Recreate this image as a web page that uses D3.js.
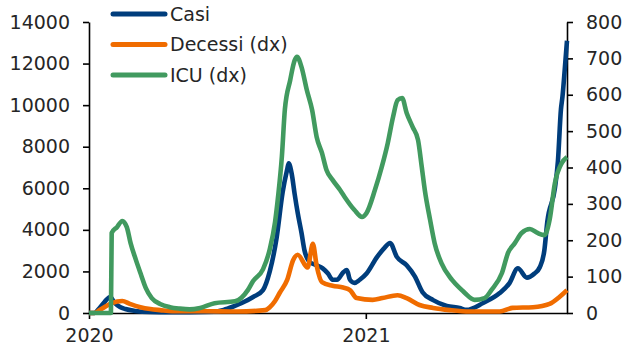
<!DOCTYPE html>
<html>
<head>
<meta charset="utf-8">
<script src="https://cdn.jsdelivr.net/npm/d3@7/dist/d3.min.js"></script>
<style>
  html, body { margin: 0; padding: 0; background: #fff; }
  svg { display: block; }
  text { font-family: "DejaVu Sans", sans-serif; fill: #262626; }
</style>
</head>
<body>
<svg id="chart" width="625" height="347"></svg>
<script>
// Daily new cases (left axis)
const casi = [
  ["2020-01-01", 0], ["2020-01-08", 0], ["2020-01-15", 240], ["2020-01-22", 550],
  ["2020-01-29", 770], ["2020-02-04", 480], ["2020-02-11", 290], ["2020-02-18", 190],
  ["2020-03-02", 100], ["2020-03-22", 50], ["2020-04-17", 40], ["2020-05-13", 40],
  ["2020-06-15", 60], ["2020-06-27", 150], ["2020-07-09", 300], ["2020-07-21", 480],
  ["2020-08-05", 770], ["2020-08-18", 1100], ["2020-08-27", 2000], ["2020-09-05", 3600],
  ["2020-09-13", 5800], ["2020-09-19", 6900], ["2020-09-21", 7200], ["2020-09-25", 6700],
  ["2020-09-29", 5700], ["2020-10-03", 4800], ["2020-10-08", 3850], ["2020-10-12", 3000],
  ["2020-10-19", 2450], ["2020-10-28", 2300], ["2020-11-05", 2150], ["2020-11-12", 1900],
  ["2020-11-18", 1600], ["2020-11-24", 1600], ["2020-12-02", 1950], ["2020-12-07", 2070],
  ["2020-12-11", 1600], ["2020-12-17", 1450], ["2020-12-24", 1600], ["2021-01-02", 1900],
  ["2021-01-16", 2700], ["2021-01-26", 3150], ["2021-02-02", 3370], ["2021-02-11", 2700],
  ["2021-02-24", 2300], ["2021-03-07", 1750], ["2021-03-17", 1000], ["2021-03-31", 620],
  ["2021-04-18", 340], ["2021-05-05", 240], ["2021-05-14", 150], ["2021-06-05", 480],
  ["2021-06-27", 960], ["2021-07-10", 1440], ["2021-07-21", 2150], ["2021-08-02", 1700],
  ["2021-08-12", 1900], ["2021-08-19", 2200], ["2021-08-25", 3000], ["2021-08-29", 4400],
  ["2021-09-08", 6000], ["2021-09-12", 7300], ["2021-09-16", 9800], ["2021-09-18", 10400],
  ["2021-09-21", 11700], ["2021-09-24", 13100]
];

// Daily deaths (right axis)
const decessi = [
  ["2020-01-01", 0], ["2020-01-08", 0], ["2020-01-15", 8], ["2020-01-31", 27],
  ["2020-02-14", 33], ["2020-02-24", 25], ["2020-03-09", 16], ["2020-03-22", 11],
  ["2020-04-04", 8], ["2020-04-20", 5], ["2020-06-01", 5], ["2020-07-15", 4],
  ["2020-08-21", 8], ["2020-08-27", 16], ["2020-09-03", 33], ["2020-09-09", 55],
  ["2020-09-19", 91], ["2020-09-27", 146], ["2020-10-03", 160], ["2020-10-16", 125],
  ["2020-10-23", 190], ["2020-10-28", 130], ["2020-11-04", 85], ["2020-11-18", 75],
  ["2020-12-02", 70], ["2020-12-11", 63], ["2020-12-20", 41], ["2021-01-10", 36],
  ["2021-01-23", 41], ["2021-02-12", 49], ["2021-02-24", 41], ["2021-03-13", 22],
  ["2021-03-31", 14], ["2021-04-22", 8], ["2021-05-18", 4], ["2021-06-27", 4],
  ["2021-07-14", 14], ["2021-08-10", 16], ["2021-09-01", 25], ["2021-09-14", 44],
  ["2021-09-24", 63]
];

// Intensive care occupancy (right axis)
const icu = [
  ["2020-01-01", 0], ["2020-01-30", 0], ["2020-01-31", 220], ["2020-02-07", 236],
  ["2020-02-14", 253], ["2020-02-20", 236], ["2020-02-25", 192], ["2020-03-03", 146],
  ["2020-03-10", 104], ["2020-03-16", 69], ["2020-03-24", 41], ["2020-04-04", 25],
  ["2020-04-17", 16], ["2020-04-30", 12], ["2020-05-13", 10], ["2020-05-27", 14],
  ["2020-06-15", 27], ["2020-07-12", 32], ["2020-07-29", 63], ["2020-08-05", 88],
  ["2020-08-18", 120], ["2020-08-27", 175], ["2020-09-03", 250], ["2020-09-07", 320],
  ["2020-09-12", 430], ["2020-09-16", 560], ["2020-09-23", 640], ["2020-09-29", 695],
  ["2020-10-02", 704], ["2020-10-08", 676], ["2020-10-15", 613], ["2020-10-22", 558],
  ["2020-10-28", 484], ["2020-11-04", 440], ["2020-11-10", 393], ["2020-11-18", 366],
  ["2020-11-28", 338], ["2020-12-04", 319], ["2020-12-17", 283], ["2020-12-27", 264],
  ["2021-01-02", 275], ["2021-01-13", 338], ["2021-01-22", 401], ["2021-01-30", 467],
  ["2021-02-06", 539], ["2021-02-12", 585], ["2021-02-18", 591], ["2021-02-24", 550],
  ["2021-03-04", 511], ["2021-03-11", 476], ["2021-03-16", 401], ["2021-03-20", 338],
  ["2021-03-27", 256], ["2021-04-02", 192], ["2021-04-11", 137], ["2021-04-25", 91],
  ["2021-05-08", 63], ["2021-05-12", 55], ["2021-05-25", 36], ["2021-06-07", 41],
  ["2021-06-16", 63], ["2021-06-30", 110], ["2021-07-08", 165], ["2021-07-17", 192],
  ["2021-07-26", 220], ["2021-08-06", 231], ["2021-08-16", 220], ["2021-08-25", 214],
  ["2021-09-01", 256], ["2021-09-08", 357], ["2021-09-17", 412], ["2021-09-24", 429]
];

const leftTicks = [0, 2000, 4000, 6000, 8000, 10000, 12000, 14000];
const rightTicks = [0, 100, 200, 300, 400, 500, 600, 700, 800];
const yearTicks = ["2020-01-01", "2021-01-01"];
const seriesNames = ["Casi", "Decessi (dx)", "ICU (dx)"];
const seriesColors = ["#003d7c", "#f06c00", "#419a5f"];

const parse = d3.utcParse("%Y-%m-%d");
const svg = d3.select("#chart");

const x = d3.scaleUtc()
  .domain([parse("2020-01-01"), parse("2021-09-24")])
  .range([89, 567]);
const yL = d3.scaleLinear().domain([0, 14000]).range([313, 22]);
const yR = d3.scaleLinear().domain([0, 800]).range([313, 22]);

// Axes
const styleAxis = g => {
  g.select(".domain").attr("stroke", "#000").attr("stroke-width", 1.6);
  g.selectAll(".tick line").attr("stroke", "#000").attr("stroke-width", 1.6);
  g.selectAll(".tick text")
    .attr("font-family", "DejaVu Sans, sans-serif")
    .attr("font-size", 19)
    .attr("fill", "#262626");
};

svg.append("g")
  .attr("transform", "translate(89,0)")
  .call(d3.axisLeft(yL).tickValues(leftTicks).tickFormat(d3.format("d"))
    .tickSizeInner(6).tickSizeOuter(0).tickPadding(13))
  .call(styleAxis);

svg.append("g")
  .attr("transform", "translate(567,0)")
  .call(d3.axisRight(yR).tickValues(rightTicks).tickFormat(d3.format("d"))
    .tickSizeInner(6).tickSizeOuter(0).tickPadding(13))
  .call(styleAxis);

svg.append("g")
  .attr("transform", "translate(0,313)")
  .call(d3.axisBottom(x).tickValues(yearTicks.map(parse)).tickFormat(d3.utcFormat("%Y"))
    .tickSizeInner(6).tickSizeOuter(0).tickPadding(10))
  .call(styleAxis);

// Lines
const lineL = d3.line().x(d => x(parse(d[0]))).y(d => yL(d[1])).curve(d3.curveMonotoneX);
const lineR = d3.line().x(d => x(parse(d[0]))).y(d => yR(d[1])).curve(d3.curveMonotoneX);

const drawn = [[casi, lineL], [decessi, lineR], [icu, lineR]];
drawn.forEach(([data, gen], i) => {
  svg.append("path")
    .datum(data)
    .attr("fill", "none")
    .attr("stroke", seriesColors[i])
    .attr("stroke-width", 4.6)
    .attr("stroke-linejoin", "round")
    .attr("stroke-linecap", "butt")
    .attr("d", gen);
});

// Legend
const legend = svg.append("g");
seriesNames.forEach((name, i) => {
  const yy = 14 + i * 30.5;
  legend.append("line")
    .attr("x1", 113).attr("x2", 165)
    .attr("y1", yy).attr("y2", yy)
    .attr("stroke", seriesColors[i])
    .attr("stroke-width", 5)
    .attr("stroke-linecap", "round");
  legend.append("text")
    .attr("x", 170).attr("y", yy)
    .attr("dy", "0.36em")
    .attr("font-size", 19)
    .text(name);
});
</script>
</body>
</html>
